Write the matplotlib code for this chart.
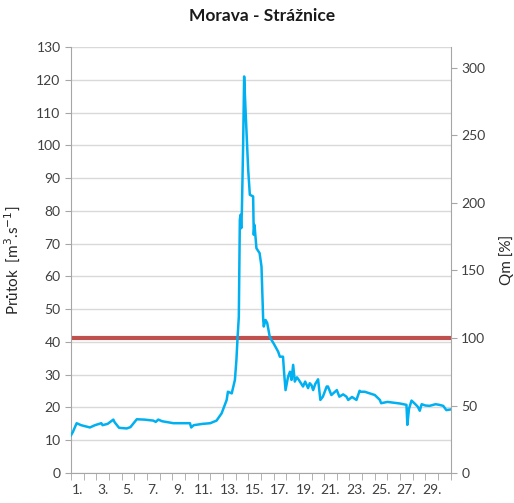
import matplotlib.pyplot as plt
from matplotlib.ticker import FixedLocator, MultipleLocator, NullFormatter

plt.rcParams['font.family'] = ['Lato', 'DejaVu Sans']

# time in days from the start of the month, flow in m3/s
day = [0.0, 0.15, 0.45, 0.8, 1.2, 1.5, 1.9, 2.4, 2.5, 2.9, 3.35, 3.45, 3.8,
       4.4, 4.7, 5.2, 5.8, 6.5, 6.7, 6.9, 7.2, 8.1, 8.8, 9.4, 9.5, 9.7, 10.4,
       11.0, 11.5, 11.9, 12.3, 12.4, 12.7, 12.95, 13.07, 13.15, 13.26, 13.34,
       13.4, 13.45, 13.5, 13.6, 13.68, 13.79, 14.0, 14.13, 14.39, 14.44,
       14.5, 14.65, 14.9, 15.05, 15.18, 15.23, 15.37, 15.5, 15.7, 15.84,
       16.0, 16.37, 16.5, 16.75, 16.84, 16.95, 17.15, 17.3, 17.42, 17.55,
       17.68, 17.85, 18.0, 18.15, 18.33, 18.5, 18.73, 18.86, 19.0, 19.13,
       19.3, 19.52, 19.7, 19.9, 20.2, 20.3, 20.57, 20.8, 21.0, 21.2, 21.5,
       21.76, 21.9, 22.2, 22.55, 22.8, 22.9, 23.2, 23.6, 24.0, 24.4, 24.5,
       25.0, 25.4, 26.0, 26.5, 26.57, 26.7, 26.9, 27.2, 27.4, 27.55, 27.7,
       28.0, 28.33, 28.8, 29.1, 29.4, 29.65, 30.0]
flow = [11.5, 12.5, 15.2, 14.6, 14.2, 13.9, 14.6, 15.2, 14.6, 15.0, 16.3,
        15.5, 13.8, 13.6, 14.0, 16.4, 16.3, 16.0, 15.6, 16.3, 15.8, 15.2,
        15.2, 15.2, 13.9, 14.6, 15.0, 15.2, 16.0, 18.2, 22.3, 24.8, 24.3,
        28.4, 34.5, 40.6, 47.7, 77.3, 78.8, 74.7, 79.8, 100.0, 121.0, 110.8,
        92.5, 84.9, 84.4, 72.7, 75.7, 68.6, 67.1, 63.0, 47.2, 44.7, 46.7,
        45.8, 41.6, 40.6, 39.6, 37.0, 35.5, 35.5, 30.4, 25.3, 29.4, 30.9,
        28.4, 33.0, 27.9, 29.2, 28.4, 27.5, 26.4, 27.9, 25.9, 27.4, 26.8,
        25.3, 27.2, 28.6, 22.3, 23.3, 26.4, 26.4, 23.8, 24.6, 25.3, 23.3,
        24.0, 23.3, 22.3, 23.2, 22.3, 25.1, 24.8, 24.8, 24.3, 23.8, 22.3,
        21.3, 21.7, 21.5, 21.2, 20.8, 14.7, 19.6, 22.1, 21.0, 20.2, 19.0,
        21.0, 20.6, 20.5, 21.0, 20.8, 20.5, 19.2, 19.4]

qm_100 = 41.2  # flow corresponding to Qm = 100 %
x_labels = [f'{d}.' for d in range(1, 30, 2)]

fig = plt.figure(figsize=(5.14, 5.03), dpi=100)
ax = fig.add_axes([0.138, 0.0596, 0.739, 0.847])

ax.plot(day, flow, color='#00B0F0', linewidth=1.8, zorder=3)
ax.axhline(qm_100, color='#C0504D', linewidth=3.0, zorder=2)

ax.set_xlim(0, 30)
ax.set_ylim(0, 130)
ax.yaxis.set_major_locator(MultipleLocator(10))
ax.grid(axis='y', color='#D9D9D9', linewidth=1.0)
ax.set_axisbelow(True)

# day labels centred in each day, tick marks at day boundaries
ax.xaxis.set_major_locator(FixedLocator([d - 0.5 for d in range(1, 30, 2)]))
ax.set_xticklabels(x_labels)
ax.xaxis.set_minor_locator(MultipleLocator(1))
ax.xaxis.set_minor_formatter(NullFormatter())
ax.tick_params(axis='x', which='major', length=0, pad=8)
ax.tick_params(axis='x', which='minor', length=5, color='#A6A6A6')
ax.tick_params(axis='y', length=4, color='#A6A6A6')
ax.tick_params(labelsize=10, labelcolor='#404040')

for side in ['top', 'right']:
    ax.spines[side].set_visible(False)
for side in ['left', 'bottom']:
    ax.spines[side].set_color('#A6A6A6')

ax.set_ylabel('Průtok  [m$^3$.s$^{-1}$]', fontsize=11, color='#262626', labelpad=10)

ax2 = ax.twinx()
ax2.set_ylim(0, 130 / qm_100 * 100)
ax2.yaxis.set_major_locator(MultipleLocator(50))
ax2.tick_params(axis='y', length=4, color='#A6A6A6', labelsize=10, labelcolor='#404040')
for side in ['top', 'left', 'bottom']:
    ax2.spines[side].set_visible(False)
ax2.spines['right'].set_color('#A6A6A6')
ax2.set_ylabel('Qm [%]', fontsize=11, color='#262626', labelpad=10)

fig.suptitle('Morava - Strážnice', x=0.51, y=0.985, fontsize=12.5,
             fontweight='bold', color='#1A1A1A')

fig.savefig('out.png', dpi=100)
